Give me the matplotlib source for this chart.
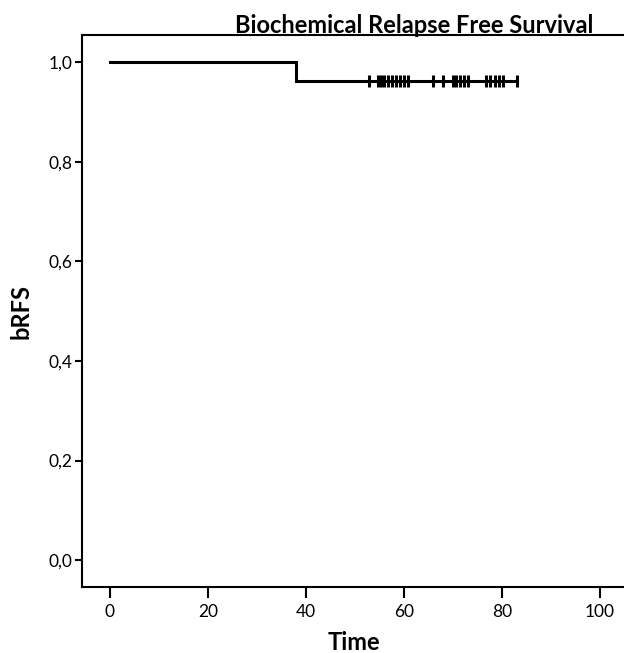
"""
Kaplan-Meier curve: biochemical relapse free survival
"""

import numpy as np
import matplotlib
matplotlib.use('Agg')
import matplotlib.pyplot as plt

#---------------------------------------------------------------------------------------------------
# Data
#---------------------------------------------------------------------------------------------------

# step curve (time, survival)
step_time = [0, 38, 38, 83]
step_surv = [1.0, 1.0, 0.963, 0.963]

# censored observations
censor_time = [52.9, 54.6, 55.3, 56.0, 56.8, 57.6, 58.4, 59.2, 60.1, 60.8,
               65.9, 67.9, 70.0, 70.7, 71.4, 72.2, 73.1,
               76.8, 77.6, 78.5, 79.3, 80.3, 83.0]
censor_surv = [0.963] * len(censor_time)

xticks = [0, 20, 40, 60, 80, 100]
yticks = [0.0, 0.2, 0.4, 0.6, 0.8, 1.0]
ytick_labels = ['%.1f' % v for v in yticks]
ytick_labels = [s.replace('.', ',') for s in ytick_labels]

title = 'Biochemical Relapse Free Survival'
xlabel = 'Time'
ylabel = 'bRFS'

#---------------------------------------------------------------------------------------------------
# Plot
#---------------------------------------------------------------------------------------------------

plt.rcParams['font.family'] = ['Lato', 'DejaVu Sans']

W, H = 624, 653
fig = plt.figure(figsize=(W / 100, H / 100), dpi=100)
ax = fig.add_axes([82 / W, 1 - 587 / H, 1 - 82 / W, (587 - 35) / H])

ax.plot(step_time, step_surv, c='k', lw=2.2, solid_joinstyle='miter')
ax.plot(censor_time, censor_surv, ls='none', marker='|', ms=8, mew=2.2, c='k')

ax.set_xlim([-5.7, 104.9])
ax.set_ylim([-0.054, 1.055])
ax.set_xticks(xticks)
ax.set_yticks(yticks)
ax.set_yticklabels(ytick_labels)

for s in ['left', 'top', 'bottom']:
    ax.spines[s].set_linewidth(1.5)
ax.spines['right'].set_visible(False)
ax.tick_params(axis='both', direction='out', width=1.5, labelsize=12.5, colors='k')
ax.tick_params(axis='x', length=8, pad=4)
ax.tick_params(axis='y', length=5, pad=2)

fig.text(414 / W, 1 - 33 / H, title, ha='center', va='baseline', size=17, weight='bold')
fig.text(354 / W, 1 - 643 / H, xlabel, ha='center', va='center', size=17, weight='bold')
fig.text(21 / W, 1 - 311 / H, ylabel, ha='center', va='center', size=17, weight='bold',
         rotation=90)

plt.savefig('out.png', dpi=100)
